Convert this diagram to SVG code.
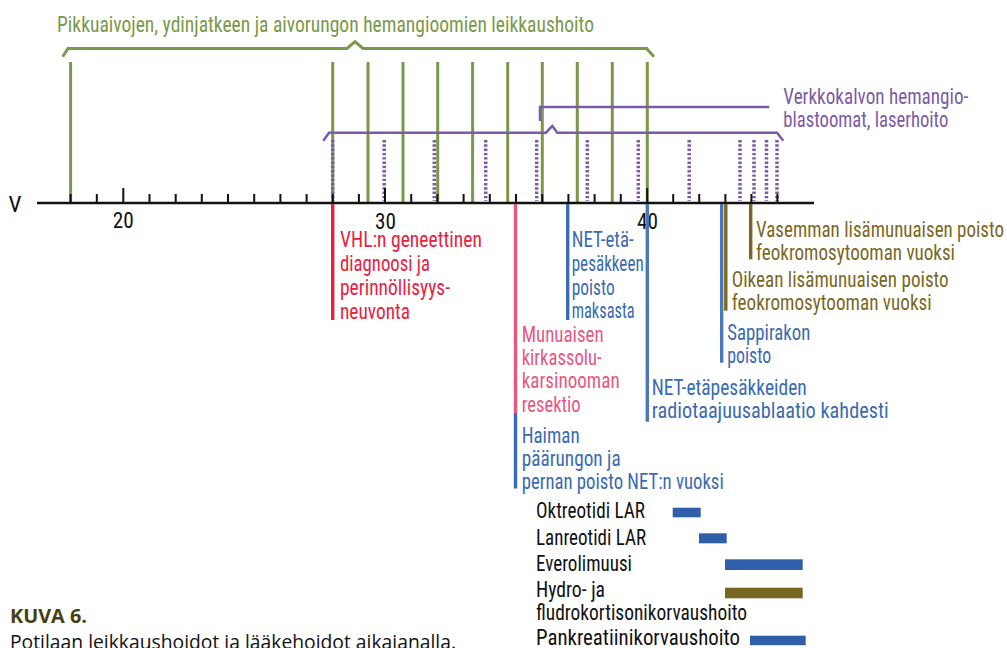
<svg xmlns="http://www.w3.org/2000/svg" width="1007" height="648" viewBox="0 0 1007 648">
<style>
text{font-family:"Liberation Sans Narrow","Roboto Condensed","Liberation Sans",Arial,sans-serif;font-size:22px}
.green{fill:#7a9849}.purple{fill:#7b5ba8}.red{fill:#e8213f}.pink{fill:#e9577f}.blue{fill:#3a6ab3}.olive{fill:#7a681f}.black{fill:#111}
.gl{stroke:#7a9849;stroke-width:3;fill:none}
.pd{stroke:#7b5ba8;stroke-width:3.5;stroke-dasharray:2.4 1.9;fill:none}
.pl{stroke:#7b5ba8;stroke-width:2.5;fill:none}
.tick{stroke:#111;stroke-width:2}
.leg{font-size:21.5px}
.cap{font-family:"Open Sans","Noto Sans",sans-serif;font-size:19.5px}
</style>

<g id="title">
<text class="green" x="57" y="31.5" font-size="24.5" textLength="537" lengthAdjust="spacingAndGlyphs">Pikkuaivojen, ydinjatkeen ja aivorungon hemangioomien leikkaushoito</text>
<path class="gl" stroke-width="2.6" d="M62.7,56.7 L68,48.5 L347,48.5 L355,41.7 L363,48.5 L646.7,48.5 L654,56.7"/>
</g>

<g id="hemangioma-surgeries">
<line class="gl" x1="70.6" y1="62" x2="70.6" y2="203"/>
<line class="gl" x1="332.7" y1="62" x2="332.7" y2="203"/>
<line class="gl" x1="368" y1="62" x2="368" y2="203"/>
<line class="gl" x1="403" y1="62" x2="403" y2="203"/>
<line class="gl" x1="437.7" y1="62" x2="437.7" y2="203"/>
<line class="gl" x1="472.6" y1="62" x2="472.6" y2="203"/>
<line class="gl" x1="507.7" y1="62" x2="507.7" y2="203"/>
<line class="gl" x1="542.3" y1="62" x2="542.3" y2="203"/>
<line class="gl" x1="577.3" y1="62" x2="577.3" y2="203"/>
<line class="gl" x1="612.3" y1="62" x2="612.3" y2="203"/>
<line class="gl" x1="647.3" y1="62" x2="647.3" y2="203"/>
</g>

<g id="retina-laser">
<text class="purple" x="783.3" y="104.3" textLength="185" lengthAdjust="spacingAndGlyphs">Verkkokalvon hemangio-</text>
<text class="purple" x="783.3" y="127.3" textLength="165" lengthAdjust="spacingAndGlyphs">blastoomat, laserhoito</text>
<path class="pl" d="M540,121 L540,107 L769.3,107"/>
<path class="pl" d="M323.3,140.7 L329,132.7 L546,132.7 L552.3,126 L557.3,132.7 L777,132.7 L783.3,140.7"/>
<line class="pd" x1="332.7" y1="140" x2="332.7" y2="201"/>
<line class="pd" x1="384.2" y1="140" x2="384.2" y2="201"/>
<line class="pd" x1="434.3" y1="140" x2="434.3" y2="201"/>
<line class="pd" x1="485.7" y1="140" x2="485.7" y2="201"/>
<line class="pd" x1="536.7" y1="140" x2="536.7" y2="201"/>
<line class="pd" x1="587.3" y1="140" x2="587.3" y2="201"/>
<line class="pd" x1="638.3" y1="140" x2="638.3" y2="201"/>
<line class="pd" x1="689.2" y1="140" x2="689.2" y2="201"/>
<line class="pd" x1="740" y1="140" x2="740" y2="201"/>
<line class="pd" x1="754" y1="140" x2="754" y2="201"/>
<line class="pd" x1="766.5" y1="140" x2="766.5" y2="201"/>
<line class="pd" x1="777" y1="140" x2="777" y2="201"/>
</g>

<g id="axis">
<line x1="37" y1="203" x2="814" y2="203" stroke="#111" stroke-width="2.7"/>
<g class="tick">
<line x1="70.6" y1="194" x2="70.6" y2="203"/>
<line x1="96.8" y1="194" x2="96.8" y2="203"/>
<line x1="123.3" y1="188" x2="123.3" y2="203"/>
<line x1="149.5" y1="194" x2="149.5" y2="203"/>
<line x1="175.7" y1="194" x2="175.7" y2="203"/>
<line x1="201.8" y1="194" x2="201.8" y2="203"/>
<line x1="228" y1="194" x2="228" y2="203"/>
<line x1="254.2" y1="194" x2="254.2" y2="203"/>
<line x1="280.4" y1="194" x2="280.4" y2="203"/>
<line x1="306.6" y1="194" x2="306.6" y2="203"/>
<line x1="332.8" y1="194" x2="332.8" y2="203"/>
<line x1="358.9" y1="194" x2="358.9" y2="203"/>
<line x1="385" y1="188" x2="385" y2="203"/>
<line x1="411.2" y1="194" x2="411.2" y2="203"/>
<line x1="437.4" y1="194" x2="437.4" y2="203"/>
<line x1="463.6" y1="194" x2="463.6" y2="203"/>
<line x1="489.8" y1="194" x2="489.8" y2="203"/>
<line x1="516" y1="194" x2="516" y2="203"/>
<line x1="542.2" y1="194" x2="542.2" y2="203"/>
<line x1="568.4" y1="194" x2="568.4" y2="203"/>
<line x1="594.6" y1="194" x2="594.6" y2="203"/>
<line x1="620.8" y1="194" x2="620.8" y2="203"/>
<line x1="647.2" y1="188" x2="647.2" y2="203"/>
<line x1="673.2" y1="194" x2="673.2" y2="203"/>
<line x1="699.2" y1="194" x2="699.2" y2="203"/>
<line x1="725.4" y1="194" x2="725.4" y2="203"/>
<line x1="751.4" y1="194" x2="751.4" y2="203"/>
<line x1="777.4" y1="194" x2="777.4" y2="203"/>
</g>
<text class="black" x="15" y="211.7" text-anchor="middle" font-size="22.5" textLength="13" lengthAdjust="spacingAndGlyphs">V</text>
<text class="black" x="123.3" y="228" text-anchor="middle" font-size="24" textLength="21" lengthAdjust="spacingAndGlyphs">20</text>
<text class="black" x="385.5" y="228.5" text-anchor="middle" font-size="24" textLength="21" lengthAdjust="spacingAndGlyphs">30</text>
<text class="black" x="647.5" y="228.5" text-anchor="middle" font-size="24" textLength="21" lengthAdjust="spacingAndGlyphs">40</text>
</g>

<g id="vhl-diagnosis">
<line x1="332.7" y1="204" x2="332.7" y2="320" stroke="#e8213f" stroke-width="3.4"/>
<text class="red" x="340" y="246.7" textLength="142" lengthAdjust="spacingAndGlyphs">VHL:n geneettinen</text>
<text class="red" x="340" y="270.7" textLength="90" lengthAdjust="spacingAndGlyphs">diagnoosi ja</text>
<text class="red" x="340" y="294.7" textLength="110" lengthAdjust="spacingAndGlyphs">perinnöllisyys-</text>
<text class="red" x="340" y="318.7" textLength="70" lengthAdjust="spacingAndGlyphs">neuvonta</text>
</g>

<g id="kidney-resection">
<line x1="515.5" y1="204" x2="515.5" y2="413" stroke="#e9577f" stroke-width="3.4"/>
<text class="pink" x="521.7" y="341.7" textLength="82" lengthAdjust="spacingAndGlyphs">Munuaisen</text>
<text class="pink" x="521.7" y="365" textLength="80" lengthAdjust="spacingAndGlyphs">kirkassolu-</text>
<text class="pink" x="521.7" y="388.4" textLength="98" lengthAdjust="spacingAndGlyphs">karsinooman</text>
<text class="pink" x="521.7" y="411.7" textLength="59" lengthAdjust="spacingAndGlyphs">resektio</text>
</g>

<g id="pancreas-resection">
<line x1="515.5" y1="413" x2="515.5" y2="488.5" stroke="#3a6ab3" stroke-width="3.4"/>
<text class="blue" x="521.7" y="442.7" textLength="58" lengthAdjust="spacingAndGlyphs">Haiman</text>
<text class="blue" x="521.7" y="465.7" textLength="99" lengthAdjust="spacingAndGlyphs">päärungon ja</text>
<text class="blue" x="521.7" y="488.5" textLength="202" lengthAdjust="spacingAndGlyphs">pernan poisto NET:n vuoksi</text>
</g>

<g id="liver-metastasis">
<line x1="567.7" y1="204" x2="567.7" y2="320" stroke="#3a6ab3" stroke-width="3.4"/>
<text class="blue" x="571.7" y="247.3" textLength="62" lengthAdjust="spacingAndGlyphs">NET-etä-</text>
<text class="blue" x="571.7" y="271" textLength="72" lengthAdjust="spacingAndGlyphs">pesäkkeen</text>
<text class="blue" x="571.7" y="294.7" textLength="43" lengthAdjust="spacingAndGlyphs">poisto</text>
<text class="blue" x="571.7" y="318.3" textLength="63" lengthAdjust="spacingAndGlyphs">maksasta</text>
</g>

<g id="rf-ablation">
<line x1="647.3" y1="204" x2="647.3" y2="421.7" stroke="#4a76bb" stroke-width="3.4"/>
<text class="blue" x="651.7" y="395" textLength="155" lengthAdjust="spacingAndGlyphs">NET-etäpesäkkeiden</text>
<text class="blue" x="651.7" y="418.3" textLength="237" lengthAdjust="spacingAndGlyphs">radiotaajuusablaatio kahdesti</text>
</g>

<g id="gallbladder">
<line x1="721.7" y1="204" x2="721.7" y2="362.7" stroke="#4a76bb" stroke-width="3.4"/>
<text class="blue" x="727.3" y="339.5" textLength="83" lengthAdjust="spacingAndGlyphs">Sappirakon</text>
<text class="blue" x="727.3" y="362.5" textLength="44" lengthAdjust="spacingAndGlyphs">poisto</text>
</g>

<g id="right-adrenal">
<line x1="725.8" y1="204" x2="725.8" y2="310.7" stroke="#7a681f" stroke-width="3.4"/>
<text class="olive" x="731.7" y="286.7" textLength="217" lengthAdjust="spacingAndGlyphs">Oikean lisämunuaisen poisto</text>
<text class="olive" x="731.7" y="310.2" textLength="200" lengthAdjust="spacingAndGlyphs">feokromosytooman vuoksi</text>
</g>

<g id="left-adrenal">
<line x1="750.7" y1="204" x2="750.7" y2="259.3" stroke="#7a681f" stroke-width="3.4"/>
<text class="olive" x="756" y="236.7" textLength="248" lengthAdjust="spacingAndGlyphs">Vasemman lisämunuaisen poisto</text>
<text class="olive" x="756" y="260.2" textLength="199" lengthAdjust="spacingAndGlyphs">feokromosytooman vuoksi</text>
</g>

<g id="medications">
<text class="black leg" x="536" y="518.3" textLength="109" lengthAdjust="spacingAndGlyphs">Oktreotidi LAR</text>
<rect x="672.7" y="507.7" width="28" height="9.6" fill="#2e5fa8"/>
<text class="black leg" x="536" y="545" textLength="110" lengthAdjust="spacingAndGlyphs">Lanreotidi LAR</text>
<rect x="699" y="533.3" width="27.7" height="10" fill="#2e5fa8"/>
<text class="black leg" x="536" y="571" textLength="96" lengthAdjust="spacingAndGlyphs">Everolimuusi</text>
<rect x="725" y="559.3" width="77.7" height="10.7" fill="#2e5fa8"/>
<text class="black leg" x="536" y="597.3" textLength="69" lengthAdjust="spacingAndGlyphs">Hydro- ja</text>
<rect x="725" y="587.7" width="77.7" height="10.6" fill="#776521"/>
<text class="black leg" x="536" y="620.3" textLength="211" lengthAdjust="spacingAndGlyphs">fludrokortisonikorvaushoito</text>
<text class="black leg" x="536" y="645" textLength="204" lengthAdjust="spacingAndGlyphs">Pankreatiinikorvaushoito</text>
<rect x="750" y="635.7" width="55.7" height="9.5" fill="#2e5fa8"/>
</g>

<g id="caption">
<text class="cap" x="10" y="622.7" font-weight="bold" fill="#474110" textLength="77" lengthAdjust="spacingAndGlyphs">KUVA 6.</text>
<text class="cap" x="10" y="648.5" fill="#111" textLength="446" lengthAdjust="spacingAndGlyphs">Potilaan leikkaushoidot ja lääkehoidot aikajanalla.</text>
</g>
</svg>
